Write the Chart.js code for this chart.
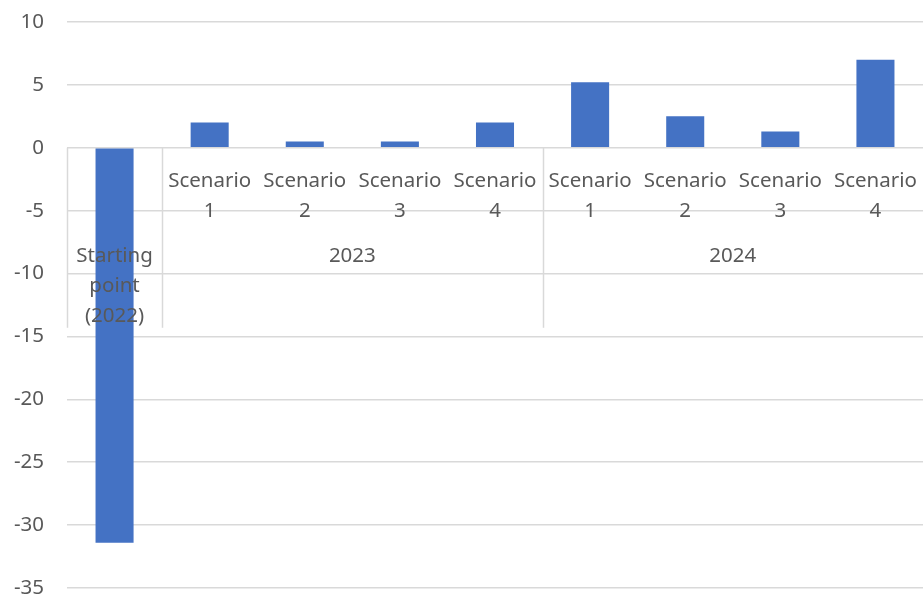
<!DOCTYPE html>
<html>
<head>
<meta charset="utf-8">
<script src="https://cdn.jsdelivr.net/npm/chart.js@4/dist/chart.umd.min.js"></script>
<style>
  html, body { margin: 0; padding: 0; background: #fff; }
  #wrap { width: 923px; height: 597px; position: relative; }
</style>
</head>
<body>
<div id="wrap"><canvas id="chart"></canvas></div>
<script>
// Data
const startLabel = ['Starting', 'point', '(2022)'];
const scenarioNames = ['Scenario 1', 'Scenario 2', 'Scenario 3', 'Scenario 4'];
const groupLabels = ['2023', '2024'];
const values = [-31.4, 2, 0.5, 0.5, 2, 5.2, 2.5, 1.3, 7];
const yMin = -35;
const yMax = 10;
const yStep = 5;

const categories = ['Starting point (2022)'];
groupLabels.forEach(g => scenarioNames.forEach(s => categories.push(g + ' ' + s)));

const textColor = '#595959';
const gridColor = '#d9d9d9';
const fontFamily = '"Noto Sans", "Open Sans", sans-serif';

// Multi-level category labels drawn at the zero line, like the original
const multiLevelLabels = {
    id: 'multiLevelLabels',
    afterDatasetsDraw(chart) {
        const ctx = chart.ctx;
        const x = chart.scales.x;
        const y = chart.scales.y;
        const zeroY = y.getPixelForValue(0);
        const half = (x.getPixelForValue(1) - x.getPixelForValue(0)) / 2;

        ctx.save();
        // separators
        ctx.strokeStyle = gridColor;
        ctx.lineWidth = 1.5;
        const seps = [x.getPixelForValue(0) - half, x.getPixelForValue(0) + half];
        let idx = 1;
        groupLabels.forEach((g, gi) => {
            idx += scenarioNames.length;
            if (gi < groupLabels.length - 1) seps.push(x.getPixelForValue(idx - 1) + half);
        });
        seps.forEach(px => {
            const sx = Math.round(px) + 0.5;
            ctx.beginPath();
            ctx.moveTo(sx, zeroY);
            ctx.lineTo(sx, zeroY + 180);
            ctx.stroke();
        });

        ctx.fillStyle = textColor;
        ctx.font = '20.5px ' + fontFamily;
        ctx.textAlign = 'center';
        ctx.textBaseline = 'middle';

        // starting point label
        const sx0 = x.getPixelForValue(0);
        startLabel.forEach((line, i) => ctx.fillText(line, sx0, zeroY + 108 + i * 30));

        // scenario + year labels
        let k = 1;
        groupLabels.forEach(g => {
            const first = k;
            scenarioNames.forEach(s => {
                const cx = x.getPixelForValue(k);
                const parts = s.split(' ');
                ctx.fillText(parts[0], cx, zeroY + 33);
                ctx.fillText(parts[1], cx, zeroY + 63);
                k++;
            });
            const left = x.getPixelForValue(first) - half;
            const right = x.getPixelForValue(k - 1) + half;
            ctx.fillText(g, (left + right) / 2, zeroY + 108);
        });
        ctx.restore();
    }
};

new Chart(document.getElementById('chart'), {
    type: 'bar',
    data: {
        labels: categories,
        datasets: [{
            data: values,
            backgroundColor: '#4472c4',
            borderWidth: 0,
            categoryPercentage: 1,
            barPercentage: 0.4
        }]
    },
    options: {
        responsive: true,
        maintainAspectRatio: false,
        animation: false,
        layout: { padding: { top: 22, bottom: 9, left: 0, right: 0 } },
        plugins: {
            legend: { display: false },
            tooltip: { enabled: false }
        },
        scales: {
            x: {
                display: false
            },
            y: {
                min: yMin,
                max: yMax,
                ticks: {
                    stepSize: yStep,
                    color: textColor,
                    padding: 23,
                    font: { family: fontFamily, size: 20.5 }
                },
                grid: {
                    color: gridColor,
                    lineWidth: 1.5,
                    drawTicks: false
                },
                border: { display: false },
                afterFit(scale) {
                    scale.width = 67;
                    scale.paddingTop = 0;
                    scale.paddingBottom = 0;
                }
            }
        }
    },
    plugins: [multiLevelLabels]
});
</script>
</body>
</html>
